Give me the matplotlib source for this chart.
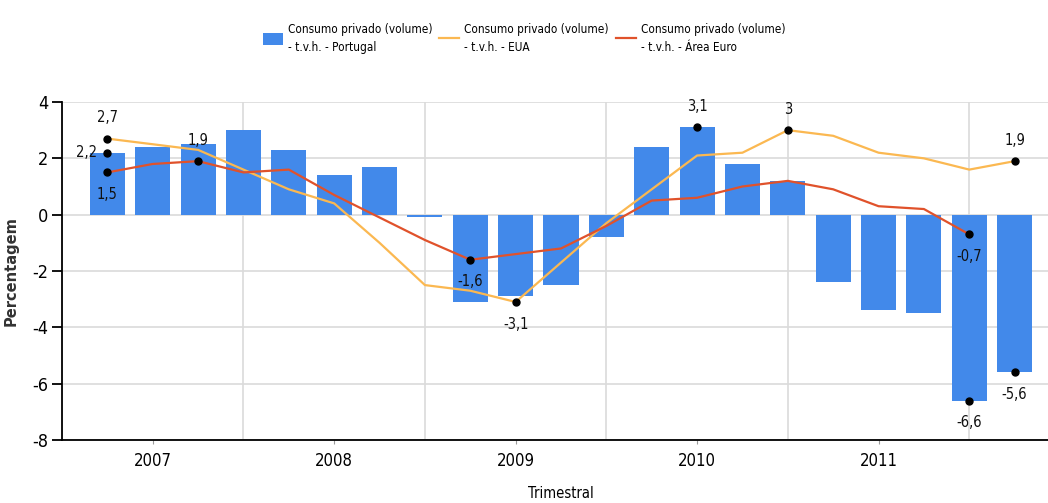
import numpy as np
import matplotlib
matplotlib.use('Agg')
import matplotlib.pyplot as plt

plt.rcParams['font.family'] = ['DejaVu Sans']
plt.rcParams['font.stretch'] = 'condensed'
plt.rcParams['axes.unicode_minus'] = False

# dados (t.v.h., %)
trimestres = ['2007T1', '2007T2', '2007T3', '2007T4',
              '2008T1', '2008T2', '2008T3', '2008T4',
              '2009T1', '2009T2', '2009T3', '2009T4',
              '2010T1', '2010T2', '2010T3', '2010T4',
              '2011T1', '2011T2', '2011T3', '2011T4',
              '2012T1']
portugal = [2.2, 2.4, 2.5, 3.0, 2.3, 1.4, 1.7, -0.1,
            -3.1, -2.9, -2.5, -0.8, 2.4, 3.1, 1.8, 1.2,
            -2.4, -3.4, -3.5, -6.6, -5.6]
eua = [2.7, 2.5, 2.3, 1.6, 0.9, 0.4, -1.0, -2.5,
       -2.7, -3.1, -1.7, -0.3, 0.9, 2.1, 2.2, 3.0,
       2.8, 2.2, 2.0, 1.6, 1.9]
area_euro = [1.5, 1.8, 1.9, 1.5, 1.6, 0.7, -0.1, -0.9,
             -1.6, -1.4, -1.2, -0.4, 0.5, 0.6, 1.0, 1.2,
             0.9, 0.3, 0.2, -0.7, np.nan]
anos = [2007, 2008, 2009, 2010, 2011]
yticks = [4, 2, 0, -2, -4, -6, -8]

nomes = ['Consumo privado (volume)\n- t.v.h. - Portugal',
         'Consumo privado (volume)\n- t.v.h. - EUA',
         'Consumo privado (volume)\n- t.v.h. - \u00c1rea Euro']

cor_pt = '#4289ea'
cor_eua = '#fbb851'
cor_euro = '#e0522b'

# posicao de cada trimestre no eixo (fim do trimestre)
x = np.array([int(t[:4]) + int(t[-1]) / 4.0 for t in trimestres])

fig = plt.figure(figsize=(10.48, 5.03), dpi=100)
W, H = 1048.0, 503.0
ax = fig.add_axes([62 / W, 63 / H, 998 / W, 338 / H])

barras = ax.bar(x, portugal, width=0.193, color=cor_pt, zorder=2, label=nomes[0])
l_eua, = ax.plot(x, eua, color=cor_eua, lw=1.6, zorder=3, label=nomes[1])
l_euro, = ax.plot(x, area_euro, color=cor_euro, lw=1.6, zorder=3, label=nomes[2])


def fmt(v):
    return ('%g' % v).replace('.', ',')


# pontos marcados: primeiro, ultimo, minimo e maximo de cada serie
desvio = {('pt', 0): (-15, 0), ('euro', 0): (0, -16)}
for nome, serie in [('pt', portugal), ('eua', eua), ('euro', area_euro)]:
    s = np.array(serie, dtype=float)
    validos = np.where(~np.isnan(s))[0]
    idx = sorted(set([validos[0], validos[-1], int(np.nanargmin(s)), int(np.nanargmax(s))]))
    for i in idx:
        v = s[i]
        ax.plot(x[i], v, 'o', color='black', ms=5, zorder=4)
        off = desvio.get((nome, i), (0, 15) if v >= 0 else (0, -16))
        ax.annotate(fmt(v), (x[i], v), xytext=off, textcoords='offset points',
                    ha='center', va='center', fontsize=10.5, color='#111111', zorder=5)

ax.set_xlim(2007.0, 2012.5)
ax.set_ylim(-8, 4)
ax.set_yticks(yticks)
ax.set_yticklabels([str(t) for t in yticks])
ax.set_xticks([a + 0.5 for a in anos])
ax.set_xticklabels([str(a) for a in anos])
ax.set_xticks(range(2007, 2013), minor=True)

ax.grid(True, which='major', axis='y', color='#dadada', lw=1.2)
ax.grid(True, which='minor', axis='x', color='#dadada', lw=1.2)
ax.set_axisbelow(True)

for lado in ['top', 'right']:
    ax.spines[lado].set_visible(False)
ax.spines['left'].set_linewidth(1.3)
ax.spines['bottom'].set_linewidth(1.3)

ax.tick_params(axis='y', length=7, width=1.3, pad=3, labelsize=13)
ax.tick_params(axis='x', which='major', length=3, color='#999999', pad=6, labelsize=12)
ax.tick_params(axis='x', which='minor', length=0)

ax.set_ylabel('Percentagem', fontsize=10.5, fontweight='bold', fontstretch='normal',
              color='#333333')
ax.yaxis.set_label_coords(-0.043, 0.5)
ax.set_xlabel('Trimestral', fontsize=10.5)
ax.xaxis.set_label_coords(0.5, -0.157)
ax.xaxis.label.set_va('center')

leg = fig.legend(handles=[barras, l_eua, l_euro], loc='upper center',
                 bbox_to_anchor=(0.5, 1 - 12 / H), ncol=3, frameon=False,
                 fontsize=8.5, handlelength=1.7, handleheight=1.25,
                 handletextpad=0.4, columnspacing=0.6)
for t in leg.get_texts():
    t.set_linespacing(1.5)

fig.savefig('out.png', dpi=100)
